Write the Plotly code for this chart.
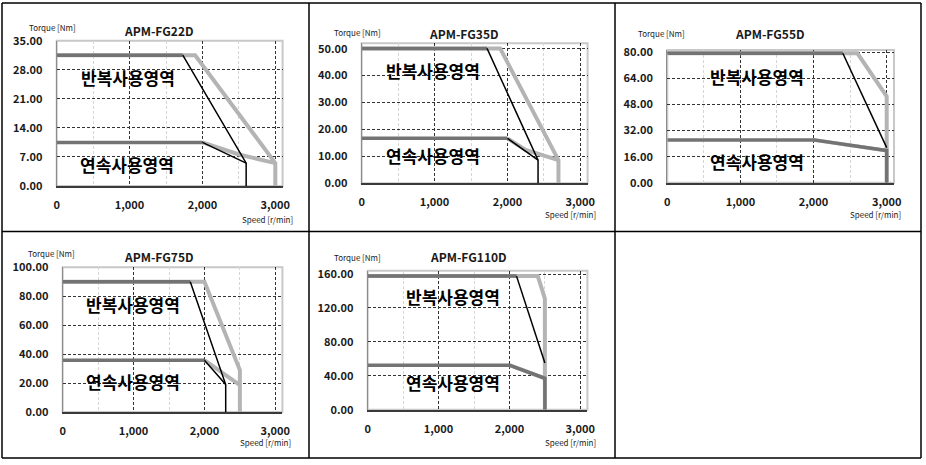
import plotly.graph_objects as go

W, H = 926, 465

models = ["APM-FG22D", "APM-FG35D", "APM-FG55D", "APM-FG75D", "APM-FG110D"]
torque_max = [35, 52, 81.5, 100, 164]
torque_step = [7, 10, 16, 20, 40]
torque_top = [35, 50, 80, 100, 160]
speed_ticks = [0, 1000, 2000, 3000]
speed_labels = ["0", "1,000", "2,000", "3,000"]

# light grey thick curves
light_peak_x = [[0, 1900, 3000, 3000], [0, 1900, 2700, 2700], [0, 2600, 3000, 3000],
                [0, 2000, 2500, 2500], [0, 2400, 2500, 2500]]
light_peak_y = [[31.5, 31.5, 5.5, 0], [50.1, 50.1, 8.6, 0], [79.5, 79.5, 53, 0],
                [90, 90, 29, 0], [157.6, 157.6, 131, 0]]
light_cont_x = [[2000, 2500, 3000], [2000, 2250, 2700], [2000, 3000],
                [2000, 2500], [2000, 2500]]
light_cont_y = [[10.5, 7.6, 5.5], [16.7, 12.4, 8.6], [26.3, 19.7],
                [35.8, 18.5], [52.5, 37]]

# dark grey thick curves
dark_peak_x = [[0, 1730], [0, 1720], [0, 2400], [0, 1800], [0, 2100]]
dark_peak_y = [[31.5, 31.5], [50.1, 50.1], [79.5, 79.5], [90, 90], [157.6, 157.6]]
dark_cont_x = [[0, 2000], [0, 2000], [0, 2000, 3000, 3000], [0, 2000], [0, 2000, 2500, 2500]]
dark_cont_y = [[10.5, 10.5], [16.7, 16.7], [26.3, 26.3, 19.7, 0], [35.8, 35.8],
               [52.5, 52.5, 37, 0]]

# thin black curves
black_peak_x = [[1730, 2600, 2600], [1720, 2420, 2420], [2400, 3000], [1800, 2300, 2300],
                [2100, 2500]]
black_peak_y = [[31.5, 5.5, 0], [50.1, 8.6, 0], [79.5, 21.5], [90, 19, 0], [157.6, 55]]
black_cont_x = [[2000, 2600], [2000, 2420], [], [2000, 2300], []]
black_cont_y = [[10.5, 5.5], [16.7, 8.6], [], [35.8, 19], []]

label_peak = "반복사용영역"
label_cont = "연속사용영역"
label_peak_pos = [(978, 26.1), (983, 42), (1222, 65), (996, 74.6), (1208, 134)]
label_cont_pos = [(970, 5.1), (983, 10.2), (1222, 12.9), (996, 21.2), (1208, 31.6)]

# plot area boxes in pixels: left, right, top, bottom
boxes = [(56.7, 282.6, 40.7, 186), (361.7, 587.6, 43.3, 183.3), (667.3, 894, 50, 182.7),
         (62.7, 282.4, 267.3, 412), (367.7, 587.4, 270.7, 409.7)]
title_pos = [(159, 30.7), (464, 33.3), (770, 33.3), (159, 256.3), (468, 256.7)]
torque_lab_pos = [(27, 27), (332, 32.3), (636, 33.3), (26, 253), (332, 257)]
speed_lab_pos = [(267, 219), (570, 214.5), (875, 214.5), (265, 442.5), (570, 442.5)]

FONT = "Noto Sans CJK KR"
LIGHT = "#b4b4b4"
DARK = "#737373"

fig = go.Figure()
layout = {}
annotations = []
shapes = []


def paper_note(text, px, py, size, xanchor="center", weight="normal"):
    return dict(text=text, x=px / W, y=1 - py / H, xref="paper", yref="paper",
                xanchor=xanchor, yanchor="middle", showarrow=False,
                font=dict(family=FONT, size=size, color="#1a1a1a", weight=weight))


for i, name in enumerate(models):
    n = "" if i == 0 else str(i + 1)
    xa, ya = "x" + n, "y" + n
    for xs, ys, col, w in [
        (light_peak_x[i], light_peak_y[i], LIGHT, 4),
        (light_cont_x[i], light_cont_y[i], LIGHT, 4),
        (dark_peak_x[i], dark_peak_y[i], DARK, 3.5),
        (dark_cont_x[i], dark_cont_y[i], DARK, 3.5),
        (black_peak_x[i], black_peak_y[i], "black", 1.5),
        (black_cont_x[i], black_cont_y[i], "black", 1.5),
    ]:
        if xs:
            fig.add_trace(go.Scatter(x=xs, y=ys, mode="lines", xaxis=xa, yaxis=ya,
                                     line=dict(color=col, width=w), showlegend=False,
                                     hoverinfo="skip"))

    l, r, t, b = boxes[i]
    yticks = [k * torque_step[i] for k in range(int(torque_top[i] / torque_step[i]) + 1)]
    layout["xaxis" + n] = dict(
        domain=[l / W, r / W], anchor=ya, range=[0, 3100], automargin=False,
        tickvals=speed_ticks, ticktext=speed_labels, ticks="", ticklabelstandoff=8,
        showline=True, linecolor="#3a3a3a", linewidth=1.5,
        showgrid=True, gridcolor="#333333", gridwidth=1, griddash="3px,2px",
        minor=dict(tick0=500, dtick=1000, showgrid=True, gridcolor="#d6d6d6", gridwidth=1),
        zeroline=False, fixedrange=True,
        tickfont=dict(family=FONT, size=11, color="#1a1a1a", weight="bold"),
    )
    layout["yaxis" + n] = dict(
        domain=[1 - b / H, 1 - t / H], anchor=xa, range=[0, torque_max[i]], automargin=False,
        tickvals=yticks, tickformat=".2f", ticks="", ticklabelstandoff=11,
        showline=True, linecolor="#8c8c8c", linewidth=1,
        showgrid=True, gridcolor="#333333", gridwidth=1, griddash="3px,2px",
        zeroline=False, fixedrange=True,
        tickfont=dict(family=FONT, size=11, color="#1a1a1a", weight="bold"),
    )
    shapes.append(dict(type="rect", xref=xa + " domain", yref=ya + " domain",
                       x0=0, x1=1, y0=0, y1=1, line=dict(color="#c8c8c8", width=2),
                       layer="below"))

    annotations.append(paper_note(name, *title_pos[i], 12, weight="bold"))
    annotations.append(paper_note("Torque [Nm]", *torque_lab_pos[i], 8, xanchor="left"))
    annotations.append(paper_note("Speed [r/min]", *speed_lab_pos[i], 8))
    for txt, pos in [(label_peak, label_peak_pos[i]), (label_cont, label_cont_pos[i])]:
        annotations.append(dict(text=txt, x=pos[0], y=pos[1], xref=xa, yref=ya,
                                xanchor="center", yanchor="middle", showarrow=False,
                                font=dict(family=FONT, size=17, color="black", weight="bold")))

# table cell borders
col_edges = [2, 309, 615, 921]
row_edges = [3, 231.5, 458]
for xe in col_edges:
    shapes.append(dict(type="line", xref="paper", yref="paper", x0=xe / W, x1=xe / W,
                       y0=1 - row_edges[0] / H, y1=1 - row_edges[-1] / H,
                       line=dict(color="black", width=1.5)))
for ye in row_edges:
    shapes.append(dict(type="line", xref="paper", yref="paper", x0=col_edges[0] / W,
                       x1=col_edges[-1] / W, y0=1 - ye / H, y1=1 - ye / H,
                       line=dict(color="black", width=1.5)))

fig.update_layout(
    template="none",
    width=W, height=H, margin=dict(l=0, r=0, t=0, b=0, autoexpand=False),
    paper_bgcolor="white", plot_bgcolor="white",
    annotations=annotations, shapes=shapes, **layout,
)

# drop the page's default body margin so the figure sits at the window's corner
fig.write_html("out.html", config={"displayModeBar": False},
               post_script="document.body.style.margin='0';document.body.style.overflow='hidden';")
